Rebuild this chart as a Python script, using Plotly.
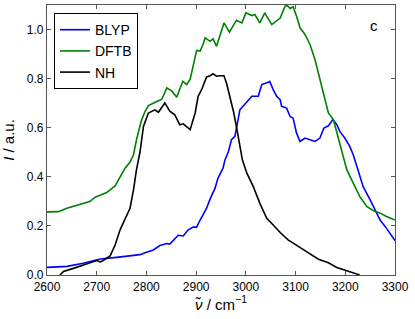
import plotly.graph_objects as go

# ---- data (wavenumber in cm^-1, intensity in a.u.) ----
dftb_x = [2600, 2623, 2640, 2666, 2686, 2697, 2720, 2737, 2747, 2757, 2767, 2774, 2780, 2790,
          2797, 2804, 2821, 2831, 2841, 2851, 2861, 2873, 2881, 2888, 2901, 2908, 2914, 2918,
          2928, 2934, 2941, 2956, 2967, 2981, 2992, 3000, 3012, 3018, 3028, 3038, 3052, 3069,
          3079, 3083, 3089, 3095, 3102, 3109, 3119, 3129, 3139, 3149, 3159, 3166, 3176, 3183,
          3193, 3203, 3216, 3229, 3243, 3256, 3270, 3283, 3300]
dftb_y = [0.257, 0.258, 0.272, 0.289, 0.299, 0.317, 0.336, 0.363, 0.401, 0.435, 0.460, 0.490,
          0.551, 0.630, 0.665, 0.690, 0.707, 0.716, 0.762, 0.750, 0.724, 0.789, 0.776, 0.798,
          0.915, 0.912, 0.940, 0.966, 0.952, 0.962, 0.932, 1.027, 0.989, 1.038, 1.027, 1.068,
          1.057, 1.061, 1.027, 1.068, 1.020, 1.047, 1.095, 1.098, 1.086, 1.093, 1.054, 1.007,
          0.980, 0.939, 0.878, 0.796, 0.714, 0.660, 0.633, 0.578, 0.510, 0.429, 0.374, 0.320,
          0.279, 0.263, 0.252, 0.238, 0.224]

blyp_x = [2600, 2640, 2673, 2707, 2740, 2774, 2787, 2800, 2814, 2827, 2841, 2847, 2854, 2864,
          2874, 2884, 2894, 2901, 2908, 2921, 2928, 2938, 2944, 2954, 2958, 2965, 2971, 2978,
          2988, 3002, 3012, 3025, 3032, 3045, 3048, 3055, 3062, 3069, 3072, 3082, 3089, 3095,
          3102, 3109, 3119, 3129, 3139, 3149, 3157, 3166, 3175, 3183, 3189, 3199, 3209, 3216,
          3223, 3236, 3250, 3260, 3270, 3283, 3300]
blyp_y = [0.031, 0.035, 0.048, 0.065, 0.072, 0.078, 0.083, 0.093, 0.102, 0.120, 0.128, 0.126,
          0.140, 0.162, 0.159, 0.184, 0.195, 0.195, 0.224, 0.272, 0.309, 0.354, 0.395, 0.435,
          0.469, 0.503, 0.551, 0.565, 0.673, 0.707, 0.728, 0.728, 0.776, 0.785, 0.789, 0.755,
          0.728, 0.714, 0.687, 0.680, 0.646, 0.639, 0.578, 0.544, 0.558, 0.551, 0.544, 0.558,
          0.599, 0.608, 0.633, 0.612, 0.585, 0.558, 0.524, 0.490, 0.442, 0.360, 0.306, 0.265,
          0.224, 0.190, 0.140]

nh_x = [2626, 2633, 2653, 2680, 2700, 2707, 2713, 2727, 2737, 2747, 2757, 2767, 2774, 2780,
        2787, 2794, 2804, 2817, 2824, 2837, 2847, 2857, 2867, 2874, 2888, 2898, 2904, 2911,
        2921, 2928, 2934, 2941, 2948, 2956, 2961, 2968, 2975, 2981, 2988, 2993, 3002, 3015,
        3028, 3042, 3055, 3069, 3085, 3102, 3122, 3146, 3166, 3183, 3203, 3216, 3229]
nh_y = [0.000, 0.014, 0.027, 0.045, 0.059, 0.053, 0.059, 0.078, 0.122, 0.184, 0.231, 0.272,
        0.347, 0.429, 0.500, 0.605, 0.660, 0.673, 0.663, 0.701, 0.667, 0.653, 0.612, 0.616,
        0.592, 0.660, 0.728, 0.755, 0.807, 0.812, 0.820, 0.810, 0.812, 0.812, 0.782, 0.728,
        0.667, 0.605, 0.515, 0.469, 0.415, 0.360, 0.293, 0.231, 0.204, 0.173, 0.143, 0.122,
        0.095, 0.064, 0.050, 0.031, 0.018, 0.007, 0.000]

x_ticks = [2600, 2700, 2800, 2900, 3000, 3100, 3200, 3300]
y_ticks = [0.0, 0.2, 0.4, 0.6, 0.8, 1.0]

FONT = "Liberation Sans, Arial, sans-serif"

fig = go.Figure()
fig.add_trace(go.Scatter(x=blyp_x, y=blyp_y, mode="lines", name="BLYP",
                         line=dict(color="#0000ff", width=1.6)))
fig.add_trace(go.Scatter(x=dftb_x, y=dftb_y, mode="lines", name="DFTB",
                         line=dict(color="#008000", width=1.6)))
fig.add_trace(go.Scatter(x=nh_x, y=nh_y, mode="lines", name="NH",
                         line=dict(color="#000000", width=1.6)))

axis_common = dict(showgrid=False, zeroline=False, showline=True, linecolor="#555555",
                   linewidth=1.2, mirror="ticks", ticks="inside", ticklen=4,
                   tickcolor="#555555", tickfont=dict(family=FONT, size=12, color="black"))

fig.update_xaxes(range=[2600, 3300], tickvals=x_ticks, ticktext=[str(v) for v in x_ticks],
                 title=dict(text="<i>ν̃</i> / cm<sup>−1</sup>",
                            font=dict(family=FONT, size=15, color="black"), standoff=4),
                 **axis_common)
fig.update_yaxes(range=[0, 1.1], tickvals=y_ticks, ticktext=[f"{v:.1f}" for v in y_ticks],
                 title=dict(text="<i>I</i> / a.u.",
                            font=dict(family=FONT, size=15, color="black"), standoff=8),
                 **axis_common)

fig.add_annotation(x=3258, y=1.016, text="c", showarrow=False,
                   font=dict(family=FONT, size=15, color="black"))

fig.update_layout(
    width=415, height=319,
    margin=dict(l=47, r=20, t=5, b=44),
    plot_bgcolor="white", paper_bgcolor="white",
    legend=dict(x=0.02, y=0.97, xanchor="left", yanchor="top",
                bordercolor="black", borderwidth=1, bgcolor="white",
                font=dict(family=FONT, size=14, color="black"),
                itemwidth=30, tracegroupgap=0),
    showlegend=True,
)

fig.write_html("out.html", config={"displayModeBar": False},
               post_script="document.body.style.margin='0';")
